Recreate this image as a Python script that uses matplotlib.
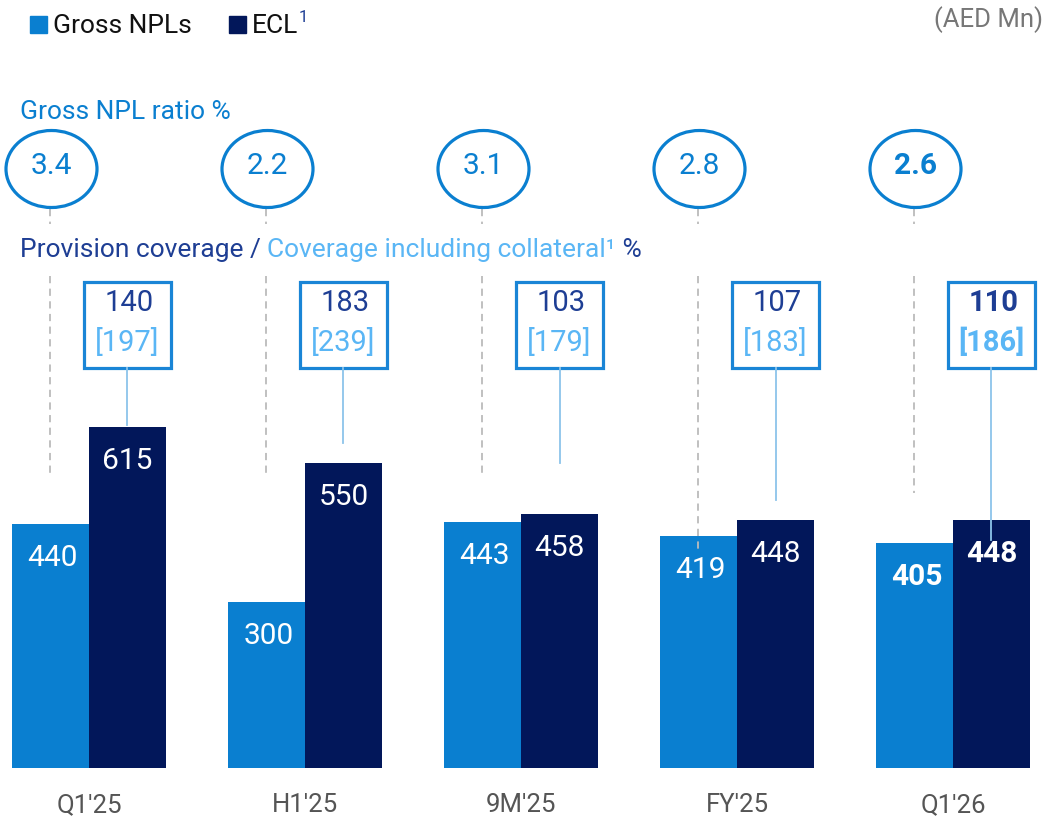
import matplotlib
matplotlib.use("Agg")
import matplotlib.pyplot as plt
from matplotlib.patches import Ellipse, Rectangle

plt.rcParams['font.family'] = ['Roboto', 'DejaVu Sans']

# data
periods = ["Q1'25", "H1'25", "9M'25", "FY'25", "Q1'26"]
gross_npls = [440, 300, 443, 419, 405]
ecl = [615, 550, 458, 448, 448]
npl_ratio = ["3.4", "2.2", "3.1", "2.8", "2.6"]
provision_cov = ["140", "183", "103", "107", "110"]
cov_collateral = ["197", "239", "179", "183", "186"]
bold_flags = [False, False, False, False, True]

# colours
LIGHT = '#0A7FD0'
DARK = '#02175A'
TXT_DARK = '#1E3E94'
TXT_LIGHT = '#5AB6F5'
BOX = '#1A85D6'
CONN = '#8CC4EA'
GREY = '#BBBBBB'
THIN = 'normal'

# layout (pixel based helpers, figure is 1048x819 at 100 dpi)
SCALE = 0.5545      # px per AED Mn
BASE = 768          # pixel row of the zero line
GAP = 216           # px between groups
X0 = 89             # px of the first group centre
BAR_W = 77 / GAP


def py(p):
    # pixel row -> data y
    return (BASE - p) / SCALE


dash_end = [473, 473, 473, 550, 493]     # where the grey dashed guides stop
conn_end = [425, 443, 463, 500, 540]     # where the blue connector stops

fig = plt.figure(figsize=(10.48, 8.19), dpi=100)
ax = fig.add_axes([0, 0, 1, 1])
ax.set_xlim(-X0 / GAP, (1048 - X0) / GAP)
ax.set_ylim(py(819), py(0))
ax.axis('off')

x = list(range(len(periods)))
x_light = [i - BAR_W / 2 for i in x]
x_dark = [i + BAR_W / 2 for i in x]

ax.bar(x_light, gross_npls, width=BAR_W, color=LIGHT, zorder=2)
ax.bar(x_dark, ecl, width=BAR_W, color=DARK, zorder=2)

lab_off = 34 / SCALE
for i in x:
    w = 'bold' if bold_flags[i] else THIN
    ax.text(x_light[i] + 2 / GAP, gross_npls[i] - lab_off, str(gross_npls[i]), color='white',
            fontsize=21.5, ha='center', va='center', fontweight=w, zorder=4)
    ax.text(x_dark[i], ecl[i] - lab_off, str(ecl[i]), color='white',
            fontsize=21.5, ha='center', va='center', fontweight=w, zorder=4)
    ax.text(i, py(805), periods[i], color='#555555', fontsize=18.5,
            ha='center', va='center', fontweight=THIN)

    # NPL ratio ellipse
    ax.add_patch(Ellipse((x_light[i] + 1 / GAP, py(169)), 91 / GAP, 77 / SCALE, fill=False,
                         edgecolor=LIGHT, linewidth=2.3, zorder=3))
    ax.text(x_light[i] + 1 / GAP, py(166), npl_ratio[i], color=LIGHT, fontsize=21.5,
            ha='center', va='center', fontweight=w)

    # grey dashed guides
    ax.plot([x_light[i], x_light[i]], [py(209), py(224)], color=GREY,
            linestyle=(0, (4, 3)), linewidth=1.3, zorder=1)
    ax.plot([x_light[i], x_light[i]], [py(276), py(dash_end[i])], color=GREY,
            linestyle=(0, (4, 3)), linewidth=1.3, zorder=3)

    # coverage box
    bx = x_dark[i]
    ax.add_patch(Rectangle((bx - 43.5 / GAP, py(368)), 87 / GAP, 86 / SCALE,
                           fill=True, facecolor='white', edgecolor=BOX,
                           linewidth=2.3, zorder=3))
    ax.plot([bx, bx], [py(368), py(conn_end[i])], color=CONN, linewidth=1.3, zorder=5)
    ax.text(bx + 2 / GAP, py(303), provision_cov[i], color=TXT_DARK, fontsize=21,
            ha='center', va='center', fontweight=w, zorder=4)
    ax.text(bx, py(342), '[' + cov_collateral[i] + ']', color=TXT_LIGHT, fontsize=21,
            ha='center', va='center', fontweight=w, zorder=4)

# headings
fig.text(20 / 1048, 1 - 112 / 819, 'Gross NPL ratio %', color=LIGHT, fontsize=19,
         ha='left', va='center', fontweight=THIN)
t1 = fig.text(20 / 1048, 1 - 250 / 819, 'Provision coverage / ', color=TXT_DARK,
              fontsize=19, ha='left', va='center', fontweight=THIN)
t2 = ax.annotate('Coverage including collateral\u00b9', xy=(1, 0), xycoords=t1,
                 va='bottom', ha='left', color=TXT_LIGHT, fontsize=19, fontweight=THIN)
ax.annotate(' %', xy=(1, 0), xycoords=t2, va='bottom', ha='left',
            color=TXT_DARK, fontsize=19, fontweight=THIN)

# legend
fig.patches.append(Rectangle((30 / 1048, 1 - 33 / 819), 17 / 1048, 17 / 819,
                             transform=fig.transFigure, color=LIGHT))
fig.text(53 / 1048, 1 - 26 / 819, 'Gross NPLs', color='#111111', fontsize=19,
         ha='left', va='center', fontweight=THIN)
fig.patches.append(Rectangle((229 / 1048, 1 - 33 / 819), 17 / 1048, 17 / 819,
                             transform=fig.transFigure, color=DARK))
e1 = fig.text(252 / 1048, 1 - 26 / 819, 'ECL', color='#111111', fontsize=19,
              ha='left', va='center', fontweight=THIN)
ax.annotate('1', xy=(1, 0.55), xycoords=e1, va='bottom', ha='left',
            color=TXT_DARK, fontsize=12, fontweight=THIN)

fig.text(1043 / 1048, 1 - 20 / 819, '(AED Mn)', color='#777777', fontsize=18.5,
         ha='right', va='center', fontweight=THIN)

fig.savefig('out.png', dpi=100)
